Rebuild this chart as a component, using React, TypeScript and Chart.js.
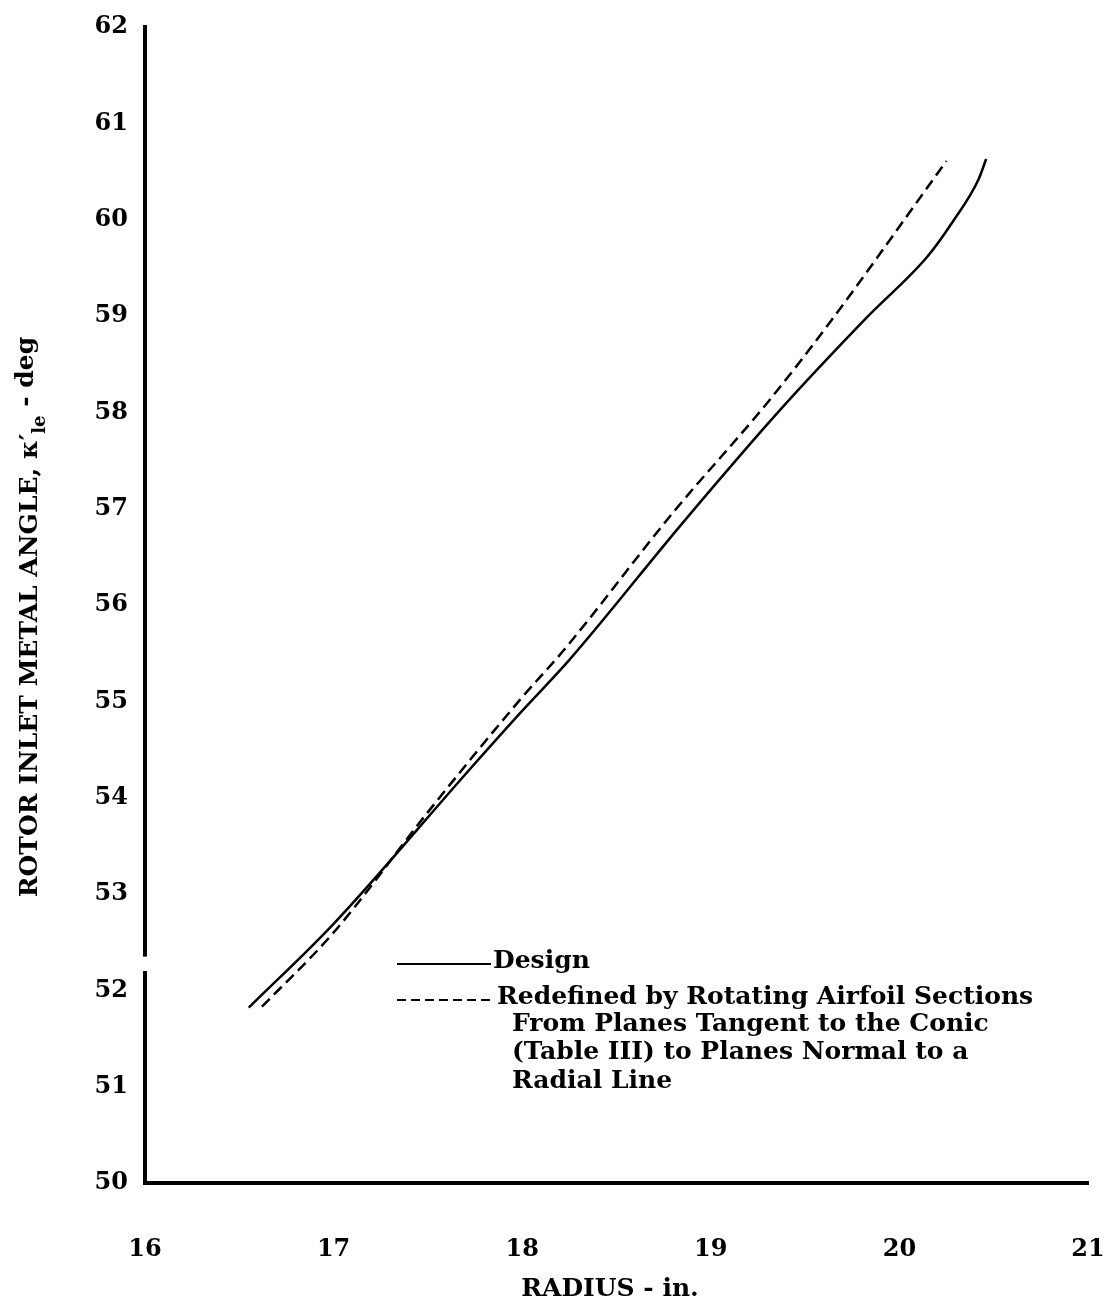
import React, { useEffect, useRef } from "react";
import { Chart, registerables } from "chart.js";

Chart.register(...registerables);

const designRadius = [16.55, 17.0, 17.72, 17.99, 18.25, 18.85, 19.37, 19.83, 20.15, 20.28, 20.42, 20.46];
const designAngle = [51.82, 52.69, 54.29, 54.88, 55.43, 56.85, 58.03, 58.99, 59.62, 59.97, 60.42, 60.63];

const redefinedRadius = [16.62, 17.0, 17.5, 17.99, 18.22, 18.8, 19.3, 19.63, 20.18, 20.25];
const redefinedAngle = [51.83, 52.6, 53.85, 55.02, 55.53, 56.96, 58.1, 58.93, 60.42, 60.61];

const xTicks = [16, 17, 18, 19, 20, 21];
const yTicks = [50, 51, 52, 53, 54, 55, 56, 57, 58, 59, 60, 61, 62];

const legendDesign = "Design";
const legendRedefined = [
  "Redefined by Rotating Airfoil Sections",
  "From Planes Tangent to the Conic",
  "(Table III) to Planes Normal to a",
  "Radial Line",
];
const xTitle = "RADIUS - in.";
const yTitleMain = "ROTOR INLET METAL ANGLE, \u03BA\u2032";
const yTitleSub = "le";
const yTitleEnd = " - deg";
const axisBreak = [52.2, 52.35];

const FONT = "DejaVu Serif";

const overlayPlugin = {
  id: "overlay",
  afterDraw(chart: any) {
    const ctx = chart.ctx;
    const xs = chart.scales.x;
    const ys = chart.scales.y;
    ctx.save();
    // axis break
    ctx.fillStyle = "#fff";
    const yb1 = ys.getPixelForValue(axisBreak[1]);
    const yb0 = ys.getPixelForValue(axisBreak[0]);
    ctx.fillRect(xs.left - 6, yb1, 12, yb0 - yb1);

    ctx.fillStyle = "#000";
    ctx.strokeStyle = "#000";
    // x title
    ctx.font = `bold 25px "${FONT}"`;
    ctx.textAlign = "center";
    ctx.textBaseline = "middle";
    ctx.fillText(xTitle, 610, 1289);

    // y title
    ctx.translate(30, 617);
    ctx.rotate(-Math.PI / 2);
    const mainFont = `bold 25px "${FONT}"`;
    const subFont = `bold 18px "${FONT}"`;
    ctx.font = mainFont;
    const w1 = ctx.measureText(yTitleMain).width;
    const w3 = ctx.measureText(yTitleEnd).width;
    ctx.font = subFont;
    const w2 = ctx.measureText(yTitleSub).width;
    const total = w1 + w2 + w3;
    let px = -total / 2;
    ctx.textAlign = "left";
    ctx.textBaseline = "middle";
    ctx.font = mainFont;
    ctx.fillText(yTitleMain, px, 0);
    px += w1;
    ctx.font = subFont;
    ctx.fillText(yTitleSub, px, 10);
    px += w2;
    ctx.font = mainFont;
    ctx.fillText(yTitleEnd, px, -4);
    ctx.setTransform(1, 0, 0, 1, 0, 0);

    // legend
    ctx.lineWidth = 2;
    ctx.setLineDash([]);
    ctx.beginPath();
    ctx.moveTo(397, 964);
    ctx.lineTo(491, 964);
    ctx.stroke();
    ctx.setLineDash([9, 5]);
    ctx.beginPath();
    ctx.moveTo(397, 1000);
    ctx.lineTo(494, 1000);
    ctx.stroke();
    ctx.setLineDash([]);
    ctx.font = `bold 25px "${FONT}"`;
    ctx.textAlign = "left";
    ctx.textBaseline = "middle";
    ctx.fillText(legendDesign, 493, 961);
    ctx.fillText(legendRedefined[0], 497, 997);
    ctx.fillText(legendRedefined[1], 512, 1024);
    ctx.fillText(legendRedefined[2], 512, 1052);
    ctx.fillText(legendRedefined[3], 512, 1081);
    ctx.restore();
  },
};

export default function App() {
  const ref = useRef<HTMLCanvasElement | null>(null);
  useEffect(() => {
    if (!ref.current) return;
    const chart = new Chart(ref.current, {
      type: "line",
      data: {
        datasets: [
          {
            label: "Design",
            data: designRadius.map((x, i) => ({ x, y: designAngle[i] })),
            borderColor: "#000",
            borderWidth: 2.5,
            pointRadius: 0,
            cubicInterpolationMode: "monotone",
            fill: false,
          },
          {
            label: "Redefined",
            data: redefinedRadius.map((x, i) => ({ x, y: redefinedAngle[i] })),
            borderColor: "#000",
            borderWidth: 2.5,
            borderDash: [11, 6],
            pointRadius: 0,
            cubicInterpolationMode: "monotone",
            fill: false,
          },
        ],
      },
      options: {
        animation: false,
        responsive: false,
        layout: { padding: { left: 0, right: 24, top: 27, bottom: 0 } },
        plugins: { legend: { display: false }, tooltip: { enabled: false } },
        scales: {
          x: {
            type: "linear",
            min: 16,
            max: 21,
            afterBuildTicks: (s: any) => {
              s.ticks = xTicks.map((v) => ({ value: v }));
            },
            afterFit: (s: any) => {
              s.height = 132;
              s.paddingLeft = 0;
              s.paddingRight = 0;
            },
            grid: { display: false },
            border: { display: true, color: "#000", width: 4 },
            ticks: {
              color: "#000",
              padding: 44,
              maxRotation: 0,
              font: { family: FONT, size: 24, weight: "bold" },
            },
          },
          y: {
            type: "linear",
            min: 50,
            max: 62,
            afterBuildTicks: (s: any) => {
              s.ticks = yTicks.map((v) => ({ value: v }));
            },
            afterFit: (s: any) => {
              s.width = 145;
              s.paddingTop = 0;
              s.paddingBottom = 0;
            },
            grid: { display: false },
            border: { display: true, color: "#000", width: 4 },
            ticks: {
              color: "#000",
              padding: 9,
              font: { family: FONT, size: 24, weight: "bold" },
            },
          },
        },
      },
      plugins: [overlayPlugin],
    } as any);
    return () => chart.destroy();
  }, []);
  return (
    <div style={{ position: "absolute", left: 0, top: 0, width: 1112, height: 1315, background: "#fff" }}>
      <canvas ref={ref} width={1112} height={1315} style={{ width: 1112, height: 1315, display: "block" }} />
    </div>
  );
}
